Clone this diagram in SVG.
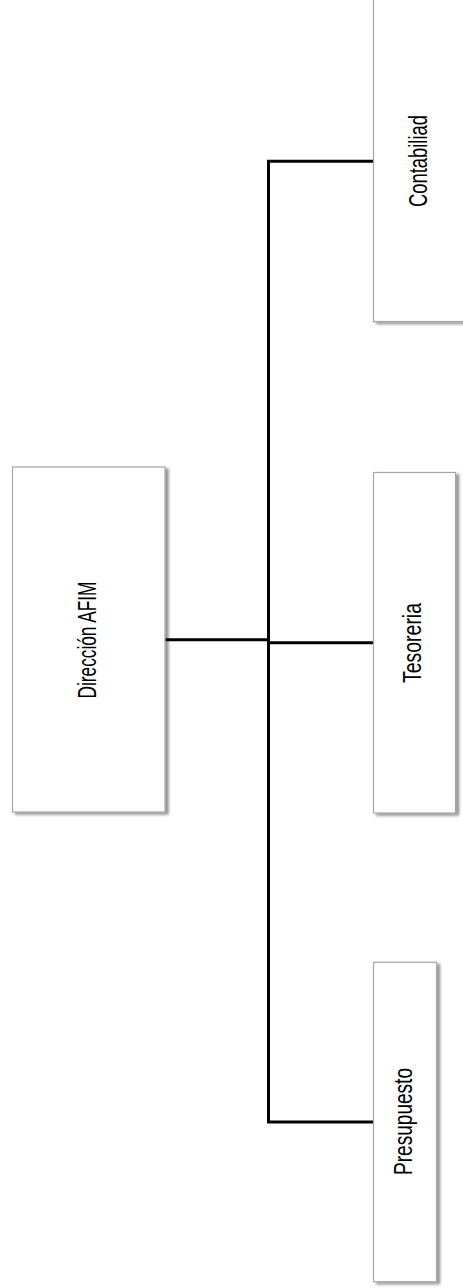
<svg xmlns="http://www.w3.org/2000/svg" width="463" height="1288" viewBox="0 0 463 1288">
<style>
.box{fill:#ffffff;stroke:#a6a6a6;stroke-width:1.2;filter:url(#sh)}
.lbl{font-family:"Liberation Sans",Arial,sans-serif;font-size:25px;fill:#000000}
.con{stroke:#000000;stroke-width:3;fill:none;stroke-linejoin:miter}
</style>
<defs>
<filter id="sh" x="-10%" y="-10%" width="130%" height="130%">
<feGaussianBlur in="SourceAlpha" stdDeviation="1.5"/>
<feOffset dx="3" dy="2" result="b"/>
<feComponentTransfer><feFuncA type="linear" slope="0.45"/></feComponentTransfer>
<feMerge><feMergeNode/><feMergeNode in="SourceGraphic"/></feMerge>
</filter>
</defs>
<rect width="463" height="1288" fill="#ffffff"/>
<g id="connectors">
<path class="con" d="M373 161.3 H268.5 V1122 H373"/>
<path class="con" d="M165 639.8 H268.5"/>
<path class="con" d="M268.5 642.7 H373"/>
</g>
<g id="node-direccion">
<rect class="box" x="12.5" y="467" width="152.5" height="345"/>
<text class="lbl" transform="translate(96,698.5) rotate(-90)" textLength="117" lengthAdjust="spacingAndGlyphs">Dirección AFIM</text>
</g>
<g id="node-contabiliad">
<rect class="box" x="373.5" y="-2" width="100" height="323.5"/>
<text class="lbl" transform="translate(427,207) rotate(-90)" textLength="92" lengthAdjust="spacingAndGlyphs">Contabiliad</text>
</g>
<g id="node-tesoreria">
<rect class="box" x="373.5" y="472.5" width="82" height="340.5"/>
<text class="lbl" transform="translate(420.7,683) rotate(-90)" textLength="80" lengthAdjust="spacingAndGlyphs">Tesoreria</text>
</g>
<g id="node-presupuesto">
<rect class="box" x="373.5" y="962.3" width="63" height="319.4"/>
<text class="lbl" transform="translate(412.3,1175) rotate(-90)" textLength="107" lengthAdjust="spacingAndGlyphs">Presupuesto</text>
</g>
</svg>
